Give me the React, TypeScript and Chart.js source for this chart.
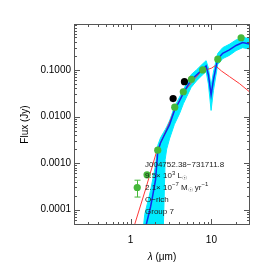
import React, { useEffect, useRef } from 'react';
import { Chart, registerables } from 'chart.js';

Chart.register(...registerables);

// ---- Axis ticks ----
const xTickValues = [1, 10];
const xTickLabels = ['1', '10'];
const yTickValues = [0.0001, 0.001, 0.01, 0.1];
const yTickLabels = ['0.0001', '0.0010', '0.0100', '0.1000'];
const xMin = 0.2;
const xMax = 30;
const yMin = 4.7e-5;
const yMax = 0.967;

// ---- Best-fit model (blue) ----
const modelWl = [1.56, 1.77, 1.87, 2.04, 2.17, 2.35, 2.63, 3.03, 3.49, 4.03, 4.51, 5.61, 6.53, 7.8, 8.6, 9.18, 9.91, 10.59, 11.96, 13.79, 16.67, 20.2, 24.3, 29.5];
const modelFlux = [4.7e-5, 1.16e-4, 1.9e-4, 4.4e-4, 1.75e-3, 2.74e-3, 4.06e-3, 6.6e-3, 0.0135, 0.0215, 0.032, 0.061, 0.078, 0.1035, 0.122, 0.078, 0.029, 0.061, 0.172, 0.228, 0.268, 0.335, 0.388, 0.36];
// ---- Model range (cyan band) ----
const bandWl = [1.45, 1.5, 1.77, 2.04, 2.17, 2.35, 2.55, 2.68, 2.8, 3.03, 3.49, 4.03, 4.51, 5.61, 6.53, 7.8, 8.6, 9.18, 9.91, 10.59, 11.96, 13.79, 16.67, 20.2, 24.3, 29.5];
const bandUpper = [4.7e-5, 8.0e-5, 2.6e-4, 9.0e-4, 2.4e-3, 3.5e-3, 4.5e-3, 5.2e-3, 6.0e-3, 8.0e-3, 0.016, 0.026, 0.038, 0.079, 0.1, 0.135, 0.158, 0.11, 0.045, 0.09, 0.225, 0.3, 0.355, 0.44, 0.5, 0.47];
const bandLower = [4.7e-5, 4.7e-5, 4.7e-5, 4.7e-5, 4.7e-5, 4.7e-5, 4.7e-5, 1.2e-3, 2.0e-3, 3.3e-3, 0.0068, 0.0115, 0.019, 0.042, 0.058, 0.079, 0.093, 0.05, 0.0135, 0.036, 0.13, 0.175, 0.205, 0.26, 0.3, 0.28];

// ---- Red model ----
const redWl = [1.12, 1.53, 2.08, 2.78, 3.59, 4.77, 6.35, 7.74, 8.93, 10.0, 11.2, 13.3, 16.7, 22.2, 29.5];
const redFlux = [4.7e-5, 2.7e-4, 1.67e-3, 5.2e-3, 0.0154, 0.037, 0.067, 0.1, 0.1025, 0.109, 0.124, 0.095, 0.072, 0.051, 0.034];

// ---- Photometry ----
const greenWl = [1.21, 1.6, 2.17, 3.52, 4.49, 5.66, 7.8, 12.0, 23.3];
const greenFlux = [3.0e-4, 5.6e-4, 1.9e-3, 0.0159, 0.034, 0.063, 0.1, 0.17, 0.49];
const blackWl = [3.36, 4.64];
const blackFlux = [0.0243, 0.056];
const errWl = [1.21];
const errLow = [1.87e-4];
const errHigh = [4.3e-4];

// ---- Annotation ----
type Seg = { t: string; s?: 'sup' | 'sub' };
const annotationLines: Seg[][] = [
  [{ t: 'J004752.38\u2212731711.8' }],
  [{ t: '9.5\u00d7 10' }, { t: '3', s: 'sup' }, { t: ' L' }, { t: '\u2609', s: 'sub' }],
  [{ t: '2.1\u00d7 10' }, { t: '\u22127', s: 'sup' }, { t: ' M' }, { t: '\u2609', s: 'sub' }, { t: ' yr' }, { t: '\u22121', s: 'sup' }],
  [{ t: 'O\u2212rich' }],
  [{ t: 'Group 7' }],
];
const xTitleItalic = '\u03bb';
const xTitleRest = ' (\u03bcm)';
const yTitle = 'Flux (Jy)';

const GREEN = '#46b83a';
const CYAN = 'rgb(0,235,255)';
const FONT = '"Liberation Sans", Arial, Helvetica, sans-serif';

const pts = (xs: number[], ys: number[]) => xs.map((x, i) => ({ x, y: ys[i] }));

const decorPlugin = {
  id: 'decor',
  afterDatasetsDraw(chart: any) {
    const { ctx, chartArea, scales } = chart;
    const { left, right, top, bottom } = chartArea;
    const xs = scales.x;
    const ys = scales.y;
    ctx.save();
    // error bars
    ctx.strokeStyle = GREEN;
    ctx.lineWidth = 1;
    errWl.forEach((w, i) => {
      const px = Math.round(xs.getPixelForValue(w)) + 0.5;
      const p1 = ys.getPixelForValue(errLow[i]);
      const p2 = ys.getPixelForValue(errHigh[i]);
      ctx.beginPath();
      ctx.moveTo(px, p1);
      ctx.lineTo(px, p2);
      ctx.moveTo(px - 3, p1);
      ctx.lineTo(px + 3, p1);
      ctx.moveTo(px - 3, p2);
      ctx.lineTo(px + 3, p2);
      ctx.stroke();
    });

    // annotation text
    ctx.fillStyle = '#222';
    ctx.textAlign = 'left';
    ctx.textBaseline = 'alphabetic';
    const baselines = [166.5, 178, 189.5, 201.5, 213.5];
    annotationLines.forEach((line, li) => {
      let x = 145;
      const y = baselines[li];
      line.forEach((seg) => {
        if (seg.s) {
          ctx.font = `6px ${FONT}`;
          const dy = seg.s === 'sup' ? -3.5 : 2;
          ctx.fillText(seg.t, x, y + dy);
        } else {
          ctx.font = `8px ${FONT}`;
          ctx.fillText(seg.t, x, y);
        }
        x += ctx.measureText(seg.t).width;
      });
    });

    // frame
    ctx.strokeStyle = '#555';
    ctx.lineWidth = 1;
    ctx.strokeRect(left + 0.5, top + 0.5, right - left - 1, bottom - top - 1);

    // ticks
    ctx.beginPath();
    for (let d = -1; d <= 1; d++) {
      for (let k = 1; k <= 9; k++) {
        const v = k * Math.pow(10, d);
        if (v <= xMin * 1.001 || v >= xMax * 0.999) continue;
        const px = Math.round(xs.getPixelForValue(v)) + 0.5;
        const len = xTickValues.some((m) => Math.abs(m - v) < 1e-9) ? 6 : 3;
        ctx.moveTo(px, bottom);
        ctx.lineTo(px, bottom - len);
        ctx.moveTo(px, top);
        ctx.lineTo(px, top + len);
      }
    }
    for (let d = -5; d <= -1; d++) {
      for (let k = 1; k <= 9; k++) {
        const v = k * Math.pow(10, d);
        if (v <= yMin || v >= yMax) continue;
        const py = Math.round(ys.getPixelForValue(v)) + 0.5;
        const len = yTickValues.some((m) => Math.abs(m - v) < 1e-12) ? 6 : 3;
        ctx.moveTo(left, py);
        ctx.lineTo(left + len, py);
        ctx.moveTo(right, py);
        ctx.lineTo(right - len, py);
      }
    }
    ctx.stroke();

    // x title
    ctx.fillStyle = '#000';
    ctx.textBaseline = 'middle';
    ctx.font = `italic 10px ${FONT}`;
    const w1 = ctx.measureText(xTitleItalic).width;
    ctx.font = `10px ${FONT}`;
    const w2 = ctx.measureText(xTitleRest).width;
    const cx = (left + right) / 2;
    const x0 = cx - (w1 + w2) / 2;
    ctx.font = `italic 10px ${FONT}`;
    ctx.fillText(xTitleItalic, x0, 257);
    ctx.font = `10px ${FONT}`;
    ctx.fillText(xTitleRest, x0 + w1, 257);

    // y title
    ctx.save();
    ctx.translate(25, (top + bottom) / 2);
    ctx.rotate(-Math.PI / 2);
    ctx.textAlign = 'center';
    ctx.fillText(yTitle, 0, 0);
    ctx.restore();

    ctx.restore();
  },
};

export default function App() {
  const ref = useRef<HTMLCanvasElement>(null);
  useEffect(() => {
    if (!ref.current) return;
    const chart = new Chart(ref.current, {
      type: 'scatter',
      data: {
        datasets: [
          {
            data: pts(greenWl, greenFlux),
            backgroundColor: GREEN,
            borderWidth: 0,
            pointRadius: 3.6,
            showLine: false,
            order: 0,
          } as any,
          {
            data: pts(blackWl, blackFlux),
            backgroundColor: '#000',
            borderWidth: 0,
            pointRadius: 3.6,
            showLine: false,
            order: 0,
          } as any,
          {
            data: pts(modelWl, modelFlux),
            borderColor: 'rgb(20,40,235)',
            borderWidth: 1.5,
            pointRadius: 0,
            showLine: true,
            order: 2,
          } as any,
          {
            data: pts(redWl, redFlux),
            borderColor: 'rgb(255,55,55)',
            borderWidth: 1,
            pointRadius: 0,
            showLine: true,
            order: 3,
          } as any,
          {
            data: pts(bandWl, bandUpper),
            borderColor: CYAN,
            backgroundColor: CYAN,
            borderWidth: 1,
            pointRadius: 0,
            showLine: true,
            fill: '+1',
            order: 4,
          } as any,
          {
            data: pts(bandWl, bandLower),
            borderColor: CYAN,
            borderWidth: 1,
            pointRadius: 0,
            showLine: true,
            order: 5,
          } as any,
        ],
      },
      options: {
        responsive: false,
        animation: false,
        devicePixelRatio: 1,
        layout: { padding: { left: 0, top: 24, right: 23, bottom: 0 } },
        plugins: { legend: { display: false }, tooltip: { enabled: false } },
        scales: {
          x: {
            type: 'logarithmic',
            min: xMin,
            max: xMax,
            grid: { display: false, drawTicks: false },
            border: { display: false },
            afterBuildTicks: (s: any) => {
              s.ticks = xTickValues.map((v) => ({ value: v }));
            },
            afterFit: (s: any) => {
              s.height = 48;
            },
            ticks: {
              padding: 9,
              color: '#000',
              maxRotation: 0,
              autoSkip: false,
              font: { family: FONT, size: 10 },
              callback: (v: any) => {
                const i = xTickValues.indexOf(Number(v));
                return i >= 0 ? xTickLabels[i] : '';
              },
            },
          },
          y: {
            type: 'logarithmic',
            min: yMin,
            max: yMax,
            grid: { display: false, drawTicks: false },
            border: { display: false },
            afterBuildTicks: (s: any) => {
              s.ticks = yTickValues.map((v) => ({ value: v }));
            },
            afterFit: (s: any) => {
              s.width = 74;
            },
            ticks: {
              padding: 3,
              color: '#000',
              autoSkip: false,
              font: { family: FONT, size: 10 },
              callback: (v: any) => {
                const i = yTickValues.indexOf(Number(v));
                return i >= 0 ? yTickLabels[i] : '';
              },
            },
          },
        },
      } as any,
      plugins: [decorPlugin],
    });
    return () => chart.destroy();
  }, []);
  return (
    <div style={{ position: 'fixed', left: 0, top: 0, width: 273, height: 273, background: '#fff' }}>
      <canvas ref={ref} width={273} height={273} style={{ width: 273, height: 273, display: 'block' }} />
    </div>
  );
}
